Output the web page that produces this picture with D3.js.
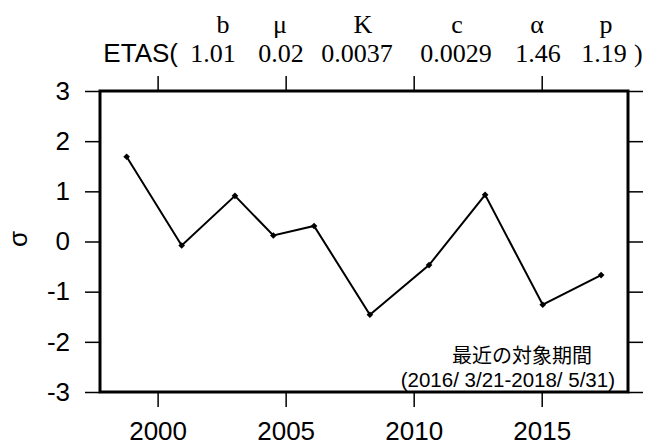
<!DOCTYPE html>
<html>
<head>
<meta charset="utf-8">
<script src="https://cdn.jsdelivr.net/npm/d3@7"></script>
<style>
  body { margin: 0; background: #fff; }
  svg { display: block; }
</style>
</head>
<body>
<svg id="chart" width="645" height="446"></svg>
<script>
// data
const years = [1998.79, 2000.94, 2003.02, 2004.52, 2006.11, 2008.29, 2010.60, 2012.79, 2015.04, 2017.32];
const sigma = [1.69, -0.08, 0.91, 0.12, 0.31, -1.46, -0.47, 0.93, -1.26, -0.67];
const xTicks = [2000, 2005, 2010, 2015];
const yTicks = [-3, -2, -1, 0, 1, 2, 3];
const paramNames = ["b", "μ", "K", "c", "α", "p"];
const paramValues = ["1.01", "0.02", "0.0037", "0.0029", "1.46", "1.19"];
const nameX = [223, 280, 363, 457, 537, 606];
const valueX = [213, 281, 357, 456, 538, 604];

const svg = d3.select("#chart");
const margin = { top: 91, right: 17, bottom: 54, left: 100 };
const width = 645 - margin.left - margin.right;
const height = 446 - margin.top - margin.bottom;

const x = d3.scaleLinear().domain([1997.75, 2018.37]).range([0, width]);
const y = d3.scaleLinear().domain([-3, 3]).range([height, 0]);

const g = svg.append("g").attr("transform", `translate(${margin.left},${margin.top})`);

const sans = "Liberation Sans, Arial, sans-serif";
const serif = "Liberation Serif, Times New Roman, serif";

function styleAxis(sel, showText) {
  sel.select(".domain").remove();
  sel.selectAll(".tick line").attr("stroke", "#000").attr("stroke-width", 1.5);
  sel.selectAll(".tick text")
    .style("font-family", sans)
    .style("font-size", "26px")
    .attr("fill", "#000");
  if (!showText) sel.selectAll(".tick text").remove();
}

g.append("g")
  .attr("transform", `translate(0,${height})`)
  .call(d3.axisBottom(x).tickValues(xTicks).tickFormat(d => String(d)).tickSize(15).tickPadding(15))
  .call(s => styleAxis(s, true));

g.append("g")
  .call(d3.axisTop(x).tickValues(xTicks).tickSize(15))
  .call(s => styleAxis(s, false));

g.append("g")
  .call(d3.axisLeft(y).tickValues(yTicks).tickFormat(d => String(d)).tickSize(15).tickPadding(15))
  .call(s => styleAxis(s, true));

g.append("g")
  .attr("transform", `translate(${width},0)`)
  .call(d3.axisRight(y).tickValues(yTicks).tickSize(15))
  .call(s => styleAxis(s, false));

// frame
g.append("rect")
  .attr("x", 0).attr("y", 0)
  .attr("width", width).attr("height", height)
  .attr("fill", "none")
  .attr("stroke", "#000")
  .attr("stroke-width", 3);

const pts = years.map((d, i) => [d, sigma[i]]);

g.append("path")
  .datum(pts)
  .attr("fill", "none")
  .attr("stroke", "#000")
  .attr("stroke-width", 2)
  .attr("d", d3.line().x(d => x(d[0])).y(d => y(d[1])));

// small square markers turned 45 degrees
g.selectAll(".pt")
  .data(pts)
  .enter().append("path")
  .attr("class", "pt")
  .attr("transform", d => `translate(${x(d[0])},${y(d[1])}) rotate(45)`)
  .attr("d", d3.symbol(d3.symbolSquare, 22))
  .attr("fill", "#000");

// y label
svg.append("text")
  .attr("transform", `translate(27,239) rotate(-90)`)
  .attr("text-anchor", "middle")
  .style("font-family", sans)
  .style("font-size", "26px")
  .text("σ");

// ETAS header
svg.append("text")
  .attr("x", 178).attr("y", 62)
  .attr("text-anchor", "end")
  .style("font-family", sans)
  .style("font-size", "26px")
  .text("ETAS(");

svg.selectAll(".pname")
  .data(paramNames)
  .enter().append("text")
  .attr("class", "pname")
  .attr("x", (d, i) => nameX[i])
  .attr("y", 33)
  .attr("text-anchor", "middle")
  .style("font-family", serif)
  .style("font-size", "26px")
  .text(d => d);

svg.selectAll(".pval")
  .data(paramValues)
  .enter().append("text")
  .attr("class", "pval")
  .attr("x", (d, i) => valueX[i])
  .attr("y", 62)
  .attr("text-anchor", "middle")
  .style("font-family", serif)
  .style("font-size", "26px")
  .text(d => d);

svg.append("text")
  .attr("x", 634).attr("y", 62)
  .style("font-family", serif)
  .style("font-size", "26px")
  .text(")");

// annotation
g.append("text")
  .attr("x", 592 - margin.left).attr("y", 362.5 - margin.top)
  .attr("text-anchor", "end")
  .style("font-family", "Noto Sans CJK JP, sans-serif")
  .style("font-size", "20px")
  .text("最近の対象期間");

g.append("text")
  .attr("x", 615 - margin.left).attr("y", 387 - margin.top)
  .attr("text-anchor", "end")
  .style("font-family", sans)
  .style("font-size", "20.5px")
  .text("(2016/ 3/21-2018/ 5/31)");
</script>
</body>
</html>
